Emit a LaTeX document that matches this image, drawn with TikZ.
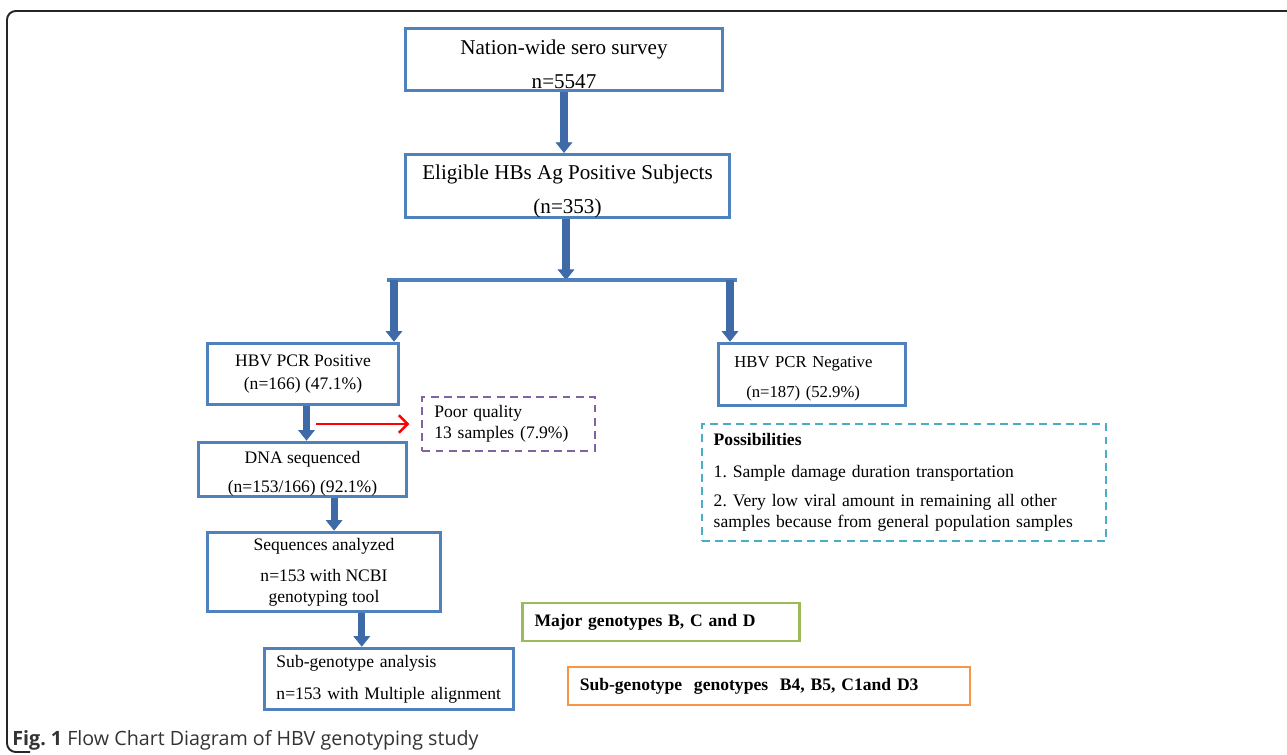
\documentclass[tikz,border=0pt]{standalone}
\usepackage{fontspec}
\setmainfont{Liberation Serif}
\newfontfamily\capfont{Open Sans}
\usetikzlibrary{arrows.meta,positioning}
\frenchspacing

\definecolor{boxblue}{RGB}{79,129,189}
\definecolor{arrowblue}{RGB}{62,106,168}
\definecolor{poorpurple}{RGB}{128,100,162}
\definecolor{possaqua}{RGB}{75,172,198}
\definecolor{majgreen}{RGB}{155,187,89}
\definecolor{suborange}{RGB}{247,150,70}

\tikzset{
  box/.style={draw=boxblue, line width=1.7pt, inner ysep=0pt, inner xsep=6.8pt},
  bigtxt/.style={font=\fontsize{12}{14.4}\selectfont, align=center},
  midtxt/.style={font=\fontsize{10}{12}\selectfont},
  boldtxt/.style={font=\fontsize{10}{12}\selectfont\bfseries, align=left},
  dashbox/.style={line width=1.2pt, dash pattern=on 4.5pt off 3pt, inner ysep=0pt, inner xsep=6.8pt},
  fatarrow/.style={draw=arrowblue, line width=4pt,
    -{Triangle[width=9.5pt,length=6pt,line width=0.4pt]}},
  redarrow/.style={draw=red, line width=1.4pt, -{Straight Barb[length=5pt,width=10pt]}}
}

\begin{document}
\begin{tikzpicture}[x=0.02cm,y=-0.02cm]
  \useasboundingbox (0,0) rectangle (1287,754);
  % outer frame of the figure
  \draw[line width=1.1pt, black!85, rounded corners=5pt] (1290,11) -- (7,11) -- (7,752) -- (30,752);

  % main column
  \node[box, bigtxt, minimum width=180.3pt, minimum height=35.7pt] (survey) at (564,59.5)
    {\rule{0pt}{14pt}Nation-wide sero survey\\[5pt] n=5547};
  \node[box, bigtxt, minimum width=184.2pt, minimum height=35.1pt] (eligible) at (567.5,186)
    {\rule{0pt}{14pt}Eligible HBs Ag Positive Subjects\\[5pt] (n=353)};
  \coordinate (split) at (566,280);
  \coordinate (barL) at (394,280);
  \coordinate (barR) at (730,280);

  \node[box, midtxt, align=center, minimum width=108.8pt, minimum height=35.1pt] (pos) at (303,374)
    {HBV PCR Positive\\[1pt] (n=166) (47.1\%)};
  \node[box, midtxt, font=\fontsize{9.5}{11.4}\selectfont, align=left, text width=88.4pt, inner xsep=9.1pt,
    minimum height=35.7pt] (neg) at (812,374.5)
    {\rule{0pt}{11pt}HBV PCR Negative\\[5.5pt] \hspace*{6.8pt}(n=187) (52.9\%)};
  \node[dashbox, draw=poorpurple, midtxt, align=left, text width=84.5pt, minimum height=30.6pt] (poor) at (508.5,424)
    {Poor quality\\ 13 samples (7.9\%)};
  \node[box, midtxt, align=center, minimum width=118.5pt, minimum height=31.2pt] (dna) at (302.5,469.5)
    {\rule{0pt}{12pt}DNA sequenced\\[4.4pt] (n=153/166) (92.1\%)};
  \node[box, midtxt, align=center, minimum width=132.7pt, minimum height=45.4pt] (seq) at (324,572)
    {Sequences analyzed\\[5.6pt] n=153 with NCBI\\ genotyping tool};
  \node[box, midtxt, align=left, text width=128.1pt, minimum height=35.1pt] (sub) at (389,679)
    {\mbox{Sub-genotype analysis}\\[6pt] \mbox{n=153 with Multiple alignment}};

  % side notes
  \node[dashbox, draw=possaqua, midtxt, align=left, text width=216.6pt, minimum height=66.3pt] (poss) at (904,482.5)
    {\textbf{Possibilities}\\[6pt] 1. Sample damage duration transportation\\[5pt]
     2. Very low viral amount in remaining all other\\ samples because from general population samples};
  \node[draw=majgreen, line width=1.4pt, boldtxt, text width=144pt, inner xsep=6.8pt, inner ysep=0pt,
    minimum height=21.5pt] (major) at (661,622) {Major genotypes B, C and D};
  \node[draw=suborange, line width=1.4pt, boldtxt, text width=215.4pt, inner xsep=6.8pt, inner ysep=0pt,
    minimum height=21.5pt] (subgeno) at (769,686) {Sub-genotype\ \ genotypes\ \ B4, B5, C1and D3};

  % connectors
  \draw[fatarrow] (survey.south) -- (survey.south |- eligible.north);
  \draw[fatarrow] (eligible.south -| split) -- (split);
  \draw[draw=boxblue, line width=1.8pt] ([xshift=-4pt]barL) -- ([xshift=4pt]barR);
  \draw[fatarrow] (barL) -- (barL |- pos.north);
  \draw[fatarrow] (barR) -- (barR |- neg.north);
  \draw[fatarrow] ([xshift=2pt]pos.south) -- ([xshift=2pt]pos.south |- dna.north);
  \coordinate (cut) at (316,424);
  \draw[redarrow, shorten >=6.8pt] (cut) -- (poor.west);
  \draw[fatarrow] ([xshift=18pt]dna.south) -- ([xshift=18pt]dna.south |- seq.north);
  \draw[fatarrow] ([xshift=21.5pt]seq.south) -- ([xshift=21.5pt]seq.south |- sub.north);

  % caption
  \node[anchor=base west, inner sep=0pt, font=\capfont\fontsize{11.2}{13}\selectfont, text=black!80] (caption) at (12,745)
    {\textbf{Fig. 1} Flow Chart Diagram of HBV genotyping study};
\end{tikzpicture}
\end{document}
